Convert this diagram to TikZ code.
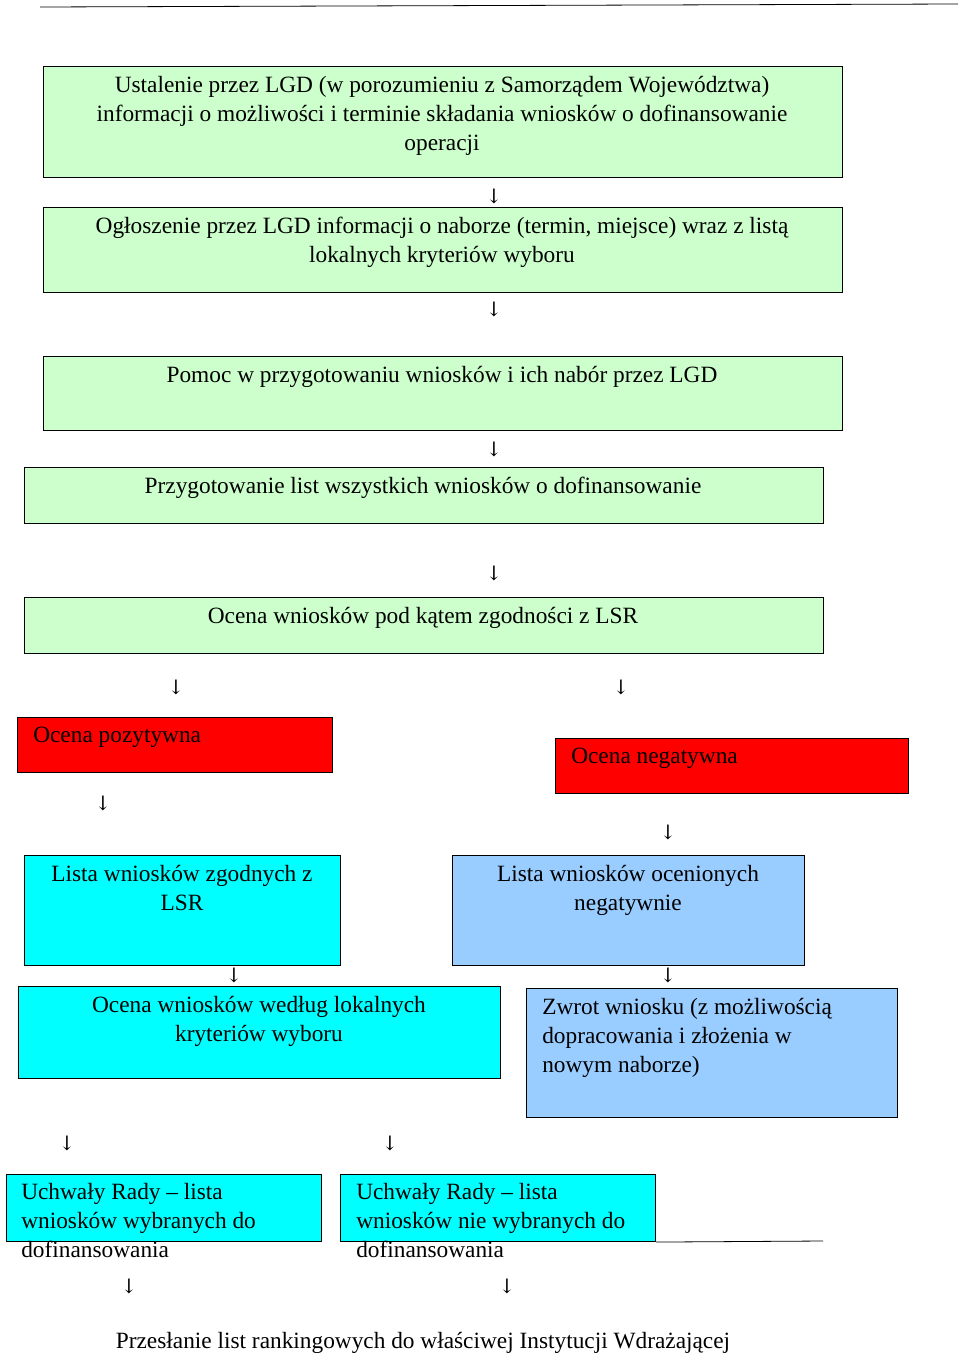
\documentclass[tikz,border=0pt]{standalone}
\usepackage{fontspec}
\setmainfont{Liberation Serif}
\newfontfamily\arrowfont{DejaVu Serif}
\definecolor{lgreen}{HTML}{CCFFCC}
\definecolor{lred}{HTML}{FF0000}
\definecolor{lcyan}{HTML}{00FFFF}
\definecolor{lblue}{HTML}{99CCFF}
\tikzset{
  box/.style={draw, line width=0.8pt, anchor=north west, inner sep=0pt},
  txt/.style={inner sep=0pt, font=\fontsize{17.5pt}{21.75pt}\selectfont},
  ctxt/.style={txt, anchor=north, align=center},
  ltxt/.style={txt, anchor=north west, align=left},
  arr/.style={inner sep=0pt, font=\arrowfont\fontsize{15pt}{15pt}\selectfont}
}
\begin{document}
\begin{tikzpicture}[x=0.75pt, y=-0.75pt]
\useasboundingbox (0,0) rectangle (960,1360);
\draw[line width=0.6pt] (40,7) -- (958,4);
% boxes
\node (b1)[box, fill=lgreen, minimum width=599.25pt, minimum height=83.25pt] at (43,66) {};
\node (b2)[box, fill=lgreen, minimum width=599.25pt, minimum height=63.75pt] at (43,207) {};
\node (b3)[box, fill=lgreen, minimum width=599.25pt, minimum height=55.5pt] at (43,356) {};
\node (b4)[box, fill=lgreen, minimum width=599.25pt, minimum height=42pt] at (24,467) {};
\node (b5)[box, fill=lgreen, minimum width=599.25pt, minimum height=42pt] at (24,597) {};
\node (pos)[box, fill=lred, minimum width=236.25pt, minimum height=41.25pt] at (17,717) {};
\node (neg)[box, fill=lred, minimum width=264.75pt, minimum height=41.25pt] at (555,738) {};
\node (zg)[box, fill=lcyan, minimum width=237pt, minimum height=82.5pt] at (24,855) {};
\node (ng)[box, fill=lblue, minimum width=264pt, minimum height=82.5pt] at (452,855) {};
\node (lk)[box, fill=lcyan, minimum width=361.5pt, minimum height=69pt] at (18,986) {};
\node (zw)[box, fill=lblue, minimum width=278.25pt, minimum height=96.75pt] at (526,988) {};
\node (uw)[box, fill=lcyan, minimum width=236.25pt, minimum height=50.25pt] at (6,1174) {};
\node (un)[box, fill=lcyan, minimum width=236.25pt, minimum height=50.25pt] at (340,1174) {};
\coordinate (unend) at (823,1241);
\draw[line width=0.6pt] (un.south east) -- (unend);
% texts
\node (t1)[ctxt] at (442,76) {Ustalenie przez LGD (w porozumieniu z Samorządem Województwa)\\informacji o możliwości i terminie składania wniosków o dofinansowanie\\operacji};
\node (t2)[ctxt] at (442,217) {Ogłoszenie przez LGD informacji o naborze (termin, miejsce) wraz z listą\\lokalnych kryteriów wyboru};
\node (t3)[ctxt] at (442,366) {Pomoc w przygotowaniu wniosków i ich nabór przez LGD};
\node (t4)[ctxt] at (423,477) {Przygotowanie list wszystkich wniosków o dofinansowanie};
\node (t5)[ctxt] at (423,607) {Ocena wniosków pod kątem zgodności z LSR};
\node (t6)[ltxt] at (33,727) {Ocena pozytywna};
\node (t7)[ltxt] at (571,748) {Ocena negatywna};
\node (t8)[ctxt] at (182,865) {Lista wniosków zgodnych z\\LSR};
\node (t9)[ctxt] at (628,865) {Lista wniosków ocenionych\\negatywnie};
\node (t10)[ctxt] at (259,996) {Ocena wniosków według lokalnych\\kryteriów wyboru};
\node (t11)[ltxt] at (542,998) {Zwrot wniosku (z możliwością\\dopracowania i złożenia w\\nowym naborze)};
\node (t12)[ltxt] at (21,1183) {Uchwały Rady -- lista\\wniosków wybranych do\\dofinansowania};
\node (t13)[ltxt] at (356,1183) {Uchwały Rady -- lista\\wniosków nie wybranych do\\dofinansowania};
\node (t14)[ctxt] at (423,1332) {Przesłanie list rankingowych do właściwej Instytucji Wdrażającej};
% arrows
\foreach \ax/\ay [count=\i] in {494/196, 494/309, 494/449, 494/573, 176/687, 621/687,
  103/803, 668/832, 234/975, 668/975, 67/1143, 390/1143, 129/1286, 507/1286}
  \node (a\i)[arr] at (\ax,\ay) {↓};
\end{tikzpicture}
\end{document}
